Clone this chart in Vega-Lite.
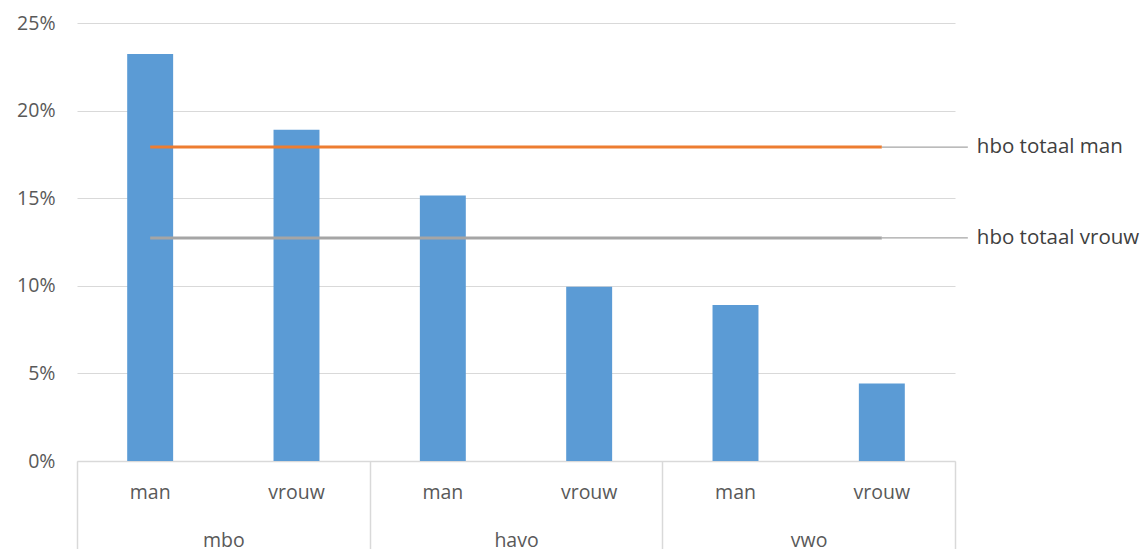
{
  "$schema": "https://vega.github.io/schema/vega-lite/v6.json",
  "width": 878,
  "height": 438,
  "autosize": {"type": "none"},
  "padding": {"left": 77, "top": 23, "right": 191, "bottom": 88},
  "config": {
    "view": {"stroke": null},
    "font": "Open Sans",
    "axis": {"labelFont": "Open Sans", "labelFontSize": 19.5, "labelColor": "#595959"}
  },
  "datasets": {
    "staven": [
      {"cat": "mbo man", "niveau": "mbo", "geslacht": "man", "pct": 0.2323},
      {"cat": "mbo vrouw", "niveau": "mbo", "geslacht": "vrouw", "pct": 0.1891},
      {"cat": "havo man", "niveau": "havo", "geslacht": "man", "pct": 0.1515},
      {"cat": "havo vrouw", "niveau": "havo", "geslacht": "vrouw", "pct": 0.0995},
      {"cat": "vwo man", "niveau": "vwo", "geslacht": "man", "pct": 0.089},
      {"cat": "vwo vrouw", "niveau": "vwo", "geslacht": "vrouw", "pct": 0.0443}
    ],
    "lijnen": [
      {"serie": "hbo totaal man", "pct": 0.1792, "van": "mbo man", "tot": "vwo vrouw"},
      {"serie": "hbo totaal vrouw", "pct": 0.1273, "van": "mbo man", "tot": "vwo vrouw"}
    ],
    "groepen": [
      {"niveau": "mbo"},
      {"niveau": "havo"},
      {"niveau": "vwo"}
    ]
  },
  "layer": [
    {
      "layer": [
        {
          "data": {"name": "staven"},
          "mark": {"type": "bar", "color": "#5b9bd5"},
          "encoding": {
            "x": {
              "field": "cat",
              "type": "nominal",
              "scale": {
                "domain": ["mbo man", "mbo vrouw", "havo man", "havo vrouw", "vwo man", "vwo vrouw"],
                "paddingInner": 0.686,
                "paddingOuter": 0.343
              },
              "axis": {
                "orient": "bottom",
                "title": null,
                "ticks": false,
                "domainColor": "#d9d9d9",
                "domainWidth": 1.5,
                "labelAngle": 0,
                "labelPadding": 22.5,
                "labelBaseline": "top",
                "labelExpr": "split(datum.label, ' ')[1]"
              }
            },
            "y": {
              "field": "pct",
              "type": "quantitative",
              "scale": {"domain": [0, 0.25], "nice": false},
              "axis": {
                "title": null,
                "values": [0, 0.05, 0.1, 0.15, 0.2, 0.25],
                "format": ".0%",
                "domain": false,
                "ticks": false,
                "labelPadding": 22,
                "gridColor": "#d9d9d9",
                "gridWidth": 1
              }
            }
          }
        },
        {
          "data": {"name": "lijnen"},
          "mark": {"type": "rule", "strokeWidth": 3},
          "encoding": {
            "x": {"field": "van", "type": "nominal"},
            "x2": {"field": "tot"},
            "y": {"field": "pct", "type": "quantitative"},
            "color": {
              "field": "serie",
              "type": "nominal",
              "scale": {"domain": ["hbo totaal man", "hbo totaal vrouw"], "range": ["#ed7d31", "#a5a5a5"]},
              "legend": null
            }
          }
        },
        {
          "data": {"name": "lijnen"},
          "mark": {"type": "rule", "strokeWidth": 1.2, "color": "#a5a5a5", "x2Offset": 86},
          "encoding": {
            "x": {"field": "tot", "type": "nominal"},
            "x2": {"field": "tot"},
            "y": {"field": "pct", "type": "quantitative"}
          }
        },
        {
          "data": {"name": "lijnen"},
          "mark": {"type": "text", "align": "left", "baseline": "middle", "dx": 95, "fontSize": 20.5, "font": "Open Sans", "color": "#404040"},
          "encoding": {
            "x": {"field": "tot", "type": "nominal"},
            "y": {"field": "pct", "type": "quantitative"},
            "text": {"field": "serie"}
          }
        }
      ]
    },
    {
      "data": {"name": "groepen"},
      "mark": {"type": "point", "opacity": 0},
      "encoding": {
        "x": {
          "field": "niveau",
          "type": "nominal",
          "scale": {"domain": ["mbo", "havo", "vwo"], "paddingInner": 0, "paddingOuter": 0},
          "axis": {
            "orient": "bottom",
            "title": null,
            "labelAngle": 0,
            "domain": false,
            "grid": false,
            "tickBand": "extent",
            "tickSize": 88,
            "tickColor": "#d9d9d9",
            "tickWidth": 1.5,
            "labelPadding": -18,
            "labelBaseline": "top"
          }
        }
      }
    }
  ],
  "resolve": {"scale": {"x": "independent"}}
}
